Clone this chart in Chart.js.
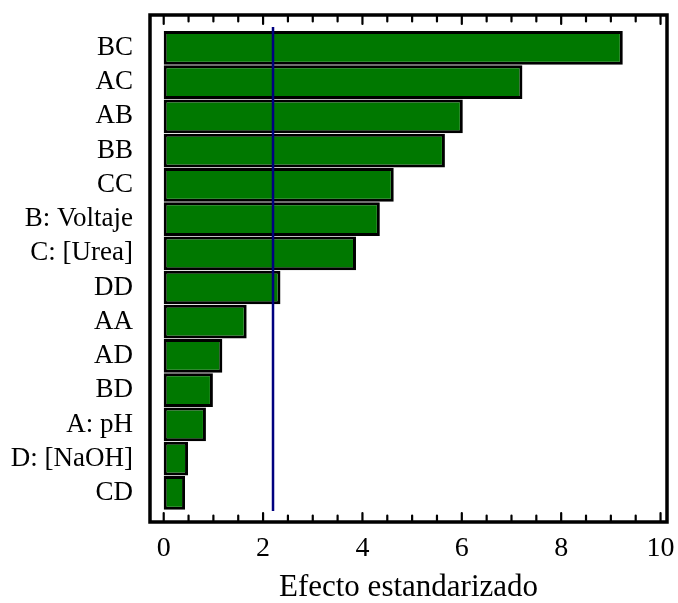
<!DOCTYPE html>
<html>
<head>
<meta charset="utf-8">
<script src="https://cdn.jsdelivr.net/npm/chart.js@4.4.1/dist/chart.umd.min.js"></script>
<style>
  html, body { margin: 0; padding: 0; background: #ffffff; }
  #wrap { width: 678px; height: 603px; }
</style>
</head>
<body>
<div id="wrap"><canvas id="chart" width="678" height="603"></canvas></div>
<script>
// Standardized Pareto chart of effects
const effectLabels = ['BC', 'AC', 'AB', 'BB', 'CC', 'B: Voltaje', 'C: [Urea]', 'DD', 'AA', 'AD', 'BD', 'A: pH', 'D: [NaOH]', 'CD'];
const effectValues = [9.24, 7.22, 6.02, 5.66, 4.63, 4.35, 3.87, 2.35, 1.67, 1.18, 0.99, 0.85, 0.49, 0.43];
const xTickValues = [0, 2, 4, 6, 8, 10];
const significanceLimit = 2.2;
const xAxisTitle = 'Efecto estandarizado';

const serif = '"Liberation Serif", "Times New Roman", serif';

// Frame, inward tick marks and the significance line
const framePlugin = {
  id: 'frame',
  afterDatasetsDraw(chart) {
    const { ctx, chartArea: a, scales: { x, y } } = chart;
    ctx.save();
    // significance line
    const lx = x.getPixelForValue(significanceLimit);
    ctx.strokeStyle = '#000080';
    ctx.lineWidth = 2.5;
    ctx.beginPath();
    ctx.moveTo(lx, y.getPixelForValue(-0.61));
    ctx.lineTo(lx, y.getPixelForValue(13.53));
    ctx.stroke();

    // tick marks on top and bottom edges
    ctx.strokeStyle = '#000';
    ctx.lineWidth = 2.2;
    ctx.lineCap = 'round';
    for (let v = 0; v <= 10.001; v += 0.5) {
      const px = x.getPixelForValue(v);
      const len = xTickValues.includes(v) ? 9 : 6.5;
      ctx.beginPath();
      ctx.moveTo(px, a.bottom);
      ctx.lineTo(px, a.bottom - len);
      ctx.moveTo(px, a.top);
      ctx.lineTo(px, a.top + len);
      ctx.stroke();
    }
    // frame
    ctx.lineWidth = 3.5;
    ctx.lineCap = 'butt';
    ctx.strokeRect(a.left, a.top, a.right - a.left, a.bottom - a.top);
    ctx.restore();
  }
};

new Chart(document.getElementById('chart'), {
  type: 'bar',
  data: {
    datasets: [{
      data: effectValues.map((v, i) => ({ x: v, y: i })),
      backgroundColor: '#007800',
      borderColor: '#000000',
      borderWidth: 3,
      borderSkipped: false,
      barPercentage: 0.985,
      categoryPercentage: 1.0
    }]
  },
  options: {
    indexAxis: 'y',
    responsive: false,
    animation: false,
    devicePixelRatio: 1,
    layout: { padding: { left: 0, right: 11, top: 15, bottom: 0 } },
    plugins: { legend: { display: false }, tooltip: { enabled: false } },
    scales: {
      x: {
        type: 'linear',
        min: -0.276,
        max: 10.13,
        offset: false,
        grid: { display: false, drawTicks: false },
        border: { display: false },
        ticks: {
          includeBounds: false,
          color: '#000',
          padding: 10,
          maxRotation: 0,
          font: { family: serif, size: 28 }
        },
        afterBuildTicks(scale) { scale.ticks = xTickValues.map(v => ({ value: v })); },
        afterFit(scale) { scale.height = 81; scale.paddingLeft = 0; scale.paddingRight = 0; },
        title: {
          display: true,
          text: xAxisTitle,
          color: '#000',
          font: { family: serif, size: 31 },
          padding: { top: 0, bottom: -3 }
        }
      },
      y: {
        type: 'linear',
        reverse: true,
        min: -0.96,
        max: 13.85,
        offset: false,
        grid: { display: false, drawTicks: false },
        border: { display: false },
        ticks: {
          color: '#000',
          padding: 17,
          font: { family: serif, size: 27 },
          callback: (v) => effectLabels[v] ?? ''
        },
        afterBuildTicks(scale) { scale.ticks = effectLabels.map((_, i) => ({ value: i })); },
        afterFit(scale) { scale.width = 150; scale.paddingTop = 0; scale.paddingBottom = 0; }
      }
    }
  },
  plugins: [framePlugin]
});
</script>
</body>
</html>
